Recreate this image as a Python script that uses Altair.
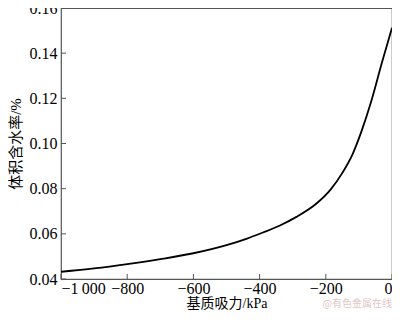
import altair as alt
import pandas as pd

suction = [-1000, -900, -800, -700, -600, -500, -440, -390, -340, -290, -230, -185, -150, -120, -92, -62, -31, 0]
theta = [0.0432, 0.0447, 0.0466, 0.0488, 0.0514, 0.0550, 0.0578, 0.0606, 0.0636, 0.0674, 0.0732, 0.0797, 0.0870, 0.0950, 0.1055, 0.1190, 0.1355, 0.1512]
x_ticks = [-1000, -800, -600, -400, -200, 0]
y_ticks = [0.04, 0.06, 0.08, 0.10, 0.12, 0.14, 0.16]

df = pd.DataFrame({"s": suction, "t": theta})
xt = pd.DataFrame({"v": x_ticks})
yt = pd.DataFrame({"v": y_ticks})

W, H = 331, 271
FONT = "Times New Roman"
CJK = "Times New Roman, Noto Sans CJK SC"
GREY = "#555555"

xs = alt.Scale(domain=[-1000, 0], nice=False)
ys = alt.Scale(domain=[0.04, 0.16], nice=False)

x_axis = alt.Axis(
    values=x_ticks, tickSize=0, labelPadding=1, domain=False, grid=False,
    labelExpr="datum.value == -1000 ? '\u22121\u2009000' : replace(format(datum.value, 'd'), '-', '\u2212')",
    labelFont=FONT, labelFontSize=16, labelColor="black",
    title="基质吸力/kPa", titleFont=CJK, titleFontSize=14, titleFontWeight="normal",
    titleColor="black", titlePadding=0,
)
y_axis = alt.Axis(
    values=y_ticks, tickSize=0, labelPadding=4, domain=False, grid=False, format=".2f",
    labelFont=FONT, labelFontSize=16, labelColor="black",
    title="体积含水率/%", titleFont=CJK, titleFontSize=15, titleFontWeight="normal",
    titleColor="black", titlePadding=6,
)

line = alt.Chart(df).mark_line(color="black", strokeWidth=1.8, interpolate="monotone").encode(
    x=alt.X("s:Q", scale=xs, axis=x_axis),
    y=alt.Y("t:Q", scale=ys, axis=y_axis),
)

xtick = alt.Chart(xt).mark_rule(color=GREY, strokeWidth=1).encode(
    x=alt.X("v:Q", scale=xs), y=alt.value(H - 5), y2=alt.value(H)
)
ytick = alt.Chart(yt).mark_rule(color=GREY, strokeWidth=1).encode(
    y=alt.Y("v:Q", scale=ys), x=alt.value(0), x2=alt.value(5)
)

wm = alt.Chart(pd.DataFrame({"w": ["@有色金属在线"]})).mark_text(
    font="Noto Sans CJK SC", fontSize=10, color="#e2c6c6", align="right", baseline="middle"
).encode(text="w:N", x=alt.value(W), y=alt.value(H + 25))

chart = alt.layer(line, xtick, ytick, wm).properties(
    width=W, height=H,
    autosize=alt.AutoSizeParams(type="none"),
    padding={"left": 53, "top": 0, "right": 0, "bottom": 31},
).configure_view(stroke=GREY, strokeWidth=1.2)

chart.save("out.html", embed_options={"renderer": "svg", "actions": False})
